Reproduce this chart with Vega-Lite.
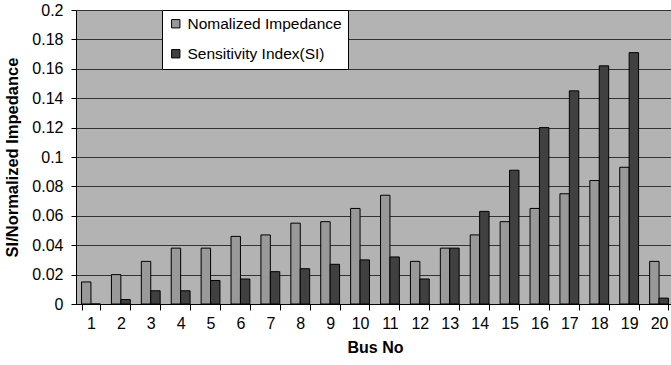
{
  "$schema": "https://vega.github.io/schema/vega-lite/v6.json",
  "autosize": {"type": "none"},
  "padding": {"left": 76, "top": 10, "right": 0, "bottom": 61},
  "width": 598,
  "height": 294,
  "background": "white",
  "view": {"fill": "#b3b3b3", "stroke": null},
  "config": {
    "font": "Liberation Sans"
  },
  "data": {
    "values": [
      {"bus": 1, "series": "Nomalized Impedance", "value": 0.015},
      {"bus": 1, "series": "Sensitivity Index(SI)", "value": 0},
      {"bus": 2, "series": "Nomalized Impedance", "value": 0.02},
      {"bus": 2, "series": "Sensitivity Index(SI)", "value": 0.003},
      {"bus": 3, "series": "Nomalized Impedance", "value": 0.029},
      {"bus": 3, "series": "Sensitivity Index(SI)", "value": 0.009},
      {"bus": 4, "series": "Nomalized Impedance", "value": 0.038},
      {"bus": 4, "series": "Sensitivity Index(SI)", "value": 0.009},
      {"bus": 5, "series": "Nomalized Impedance", "value": 0.038},
      {"bus": 5, "series": "Sensitivity Index(SI)", "value": 0.016},
      {"bus": 6, "series": "Nomalized Impedance", "value": 0.046},
      {"bus": 6, "series": "Sensitivity Index(SI)", "value": 0.017},
      {"bus": 7, "series": "Nomalized Impedance", "value": 0.047},
      {"bus": 7, "series": "Sensitivity Index(SI)", "value": 0.022},
      {"bus": 8, "series": "Nomalized Impedance", "value": 0.055},
      {"bus": 8, "series": "Sensitivity Index(SI)", "value": 0.024},
      {"bus": 9, "series": "Nomalized Impedance", "value": 0.056},
      {"bus": 9, "series": "Sensitivity Index(SI)", "value": 0.027},
      {"bus": 10, "series": "Nomalized Impedance", "value": 0.065},
      {"bus": 10, "series": "Sensitivity Index(SI)", "value": 0.030},
      {"bus": 11, "series": "Nomalized Impedance", "value": 0.074},
      {"bus": 11, "series": "Sensitivity Index(SI)", "value": 0.032},
      {"bus": 12, "series": "Nomalized Impedance", "value": 0.029},
      {"bus": 12, "series": "Sensitivity Index(SI)", "value": 0.017},
      {"bus": 13, "series": "Nomalized Impedance", "value": 0.038},
      {"bus": 13, "series": "Sensitivity Index(SI)", "value": 0.038},
      {"bus": 14, "series": "Nomalized Impedance", "value": 0.047},
      {"bus": 14, "series": "Sensitivity Index(SI)", "value": 0.063},
      {"bus": 15, "series": "Nomalized Impedance", "value": 0.056},
      {"bus": 15, "series": "Sensitivity Index(SI)", "value": 0.091},
      {"bus": 16, "series": "Nomalized Impedance", "value": 0.065},
      {"bus": 16, "series": "Sensitivity Index(SI)", "value": 0.120},
      {"bus": 17, "series": "Nomalized Impedance", "value": 0.075},
      {"bus": 17, "series": "Sensitivity Index(SI)", "value": 0.145},
      {"bus": 18, "series": "Nomalized Impedance", "value": 0.084},
      {"bus": 18, "series": "Sensitivity Index(SI)", "value": 0.162},
      {"bus": 19, "series": "Nomalized Impedance", "value": 0.093},
      {"bus": 19, "series": "Sensitivity Index(SI)", "value": 0.171},
      {"bus": 20, "series": "Nomalized Impedance", "value": 0.029},
      {"bus": 20, "series": "Sensitivity Index(SI)", "value": 0.004}
    ]
  },
  "mark": {"type": "bar", "stroke": "black", "strokeWidth": 1},
  "encoding": {
    "x": {
      "field": "bus",
      "type": "ordinal",
      "sort": null,
      "scale": {"paddingInner": 0.37, "paddingOuter": 0.185},
      "axis": {
        "title": "Bus No",
        "titleFont": "Liberation Sans",
        "titleFontSize": 16,
        "titleFontWeight": "bold",
        "titleColor": "black",
        "titlePadding": 8,
        "labelAngle": 0,
        "labelFontSize": 16,
        "labelColor": "black",
        "labelPadding": 5,
        "tickBand": "extent",
        "tickSize": 6,
        "tickColor": "black",
        "domainColor": "black",
        "grid": false
      }
    },
    "xOffset": {
      "field": "series",
      "type": "nominal",
      "sort": ["Nomalized Impedance", "Sensitivity Index(SI)"],
      "scale": {"paddingInner": 0, "paddingOuter": 0}
    },
    "y": {
      "field": "value",
      "type": "quantitative",
      "scale": {"domain": [0, 0.2], "nice": false},
      "axis": {
        "title": "SI/Normalized Impedance",
        "titleFont": "Liberation Sans",
        "titleFontSize": 16.5,
        "titleFontWeight": "bold",
        "titleColor": "black",
        "titlePadding": 11,
        "values": [0, 0.02, 0.04, 0.06, 0.08, 0.1, 0.12, 0.14, 0.16, 0.18, 0.2],
        "format": "~g",
        "labelFontSize": 16,
        "labelColor": "black",
        "labelPadding": 8,
        "tickSize": 5,
        "tickColor": "black",
        "domainColor": "black",
        "grid": true,
        "gridColor": "#333333",
        "gridOpacity": 1,
        "gridWidth": 1
      }
    },
    "color": {
      "field": "series",
      "type": "nominal",
      "sort": ["Nomalized Impedance", "Sensitivity Index(SI)"],
      "scale": {
        "domain": ["Nomalized Impedance", "Sensitivity Index(SI)"],
        "range": ["#999999", "#404040"]
      },
      "legend": {
        "title": null,
        "orient": "none",
        "legendX": 86,
        "legendY": 0,
        "direction": "vertical",
        "fillColor": "white",
        "strokeColor": "black",
        "padding": 6,
        "rowPadding": 13,
        "symbolType": "square",
        "symbolSize": 70,
        "symbolStrokeColor": "black",
        "symbolStrokeWidth": 1,
        "labelFont": "Liberation Sans",
        "labelFontSize": 15.5,
        "labelColor": "black",
        "labelOffset": 4,
        "labelLimit": 300
      }
    }
  }
}
